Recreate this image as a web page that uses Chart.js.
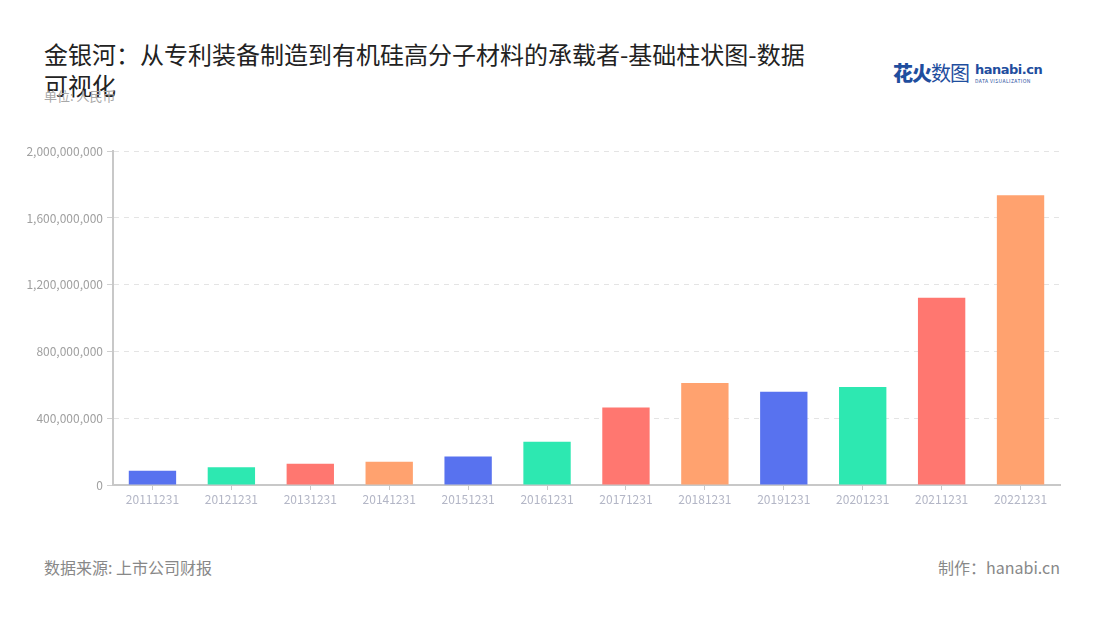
<!DOCTYPE html>
<html lang="zh">
<head>
<meta charset="UTF-8">
<title>金银河 基础柱状图</title>
<script src="https://cdn.jsdelivr.net/npm/chart.js"></script>
<style>
    body {
        margin: 0;
        background: #fff;
        font-family: "Noto Sans CJK SC", "Noto Sans", sans-serif;
    }
    .page {
        position: relative;
        width: 1100px;
        height: 620px;
        overflow: hidden;
    }
    .title {
        position: absolute;
        left: 44px;
        top: 38px;
        width: 775px;
        font-size: 24px;
        line-height: 31px;
        color: #222;
    }
    .unit {
        position: absolute;
        left: 44px;
        top: 86px;
        font-size: 13px;
        color: #a8a8a8;
    }
    .logo {
        position: absolute;
        left: 893px;
        top: 58px;
        display: flex;
        align-items: center;
    }
    .logo .cn {
        font-size: 20px;
        color: #1f4e9e;
        letter-spacing: -1px;
    }
    .logo .cn b { font-weight: 900; }
    .logo .en {
        margin-left: 6px;
        line-height: 1;
    }
    .logo .en b {
        display: block;
        font-family: "DejaVu Sans", sans-serif;
        font-size: 13px;
        color: #1f4e9e;
        letter-spacing: -0.5px;
    }
    .logo .en i {
        display: block;
        font-style: normal;
        font-size: 5px;
        color: #1f4e9e;
        letter-spacing: 0.4px;
        margin-top: 2px;
    }
    .chart-box {
        position: absolute;
        left: 0;
        top: 140px;
        width: 1100px;
        height: 380px;
    }
    .source {
        position: absolute;
        left: 44px;
        top: 555px;
        font-size: 16px;
        color: #888;
    }
    .maker {
        position: absolute;
        right: 40px;
        top: 555px;
        font-size: 16px;
        color: #888;
    }
</style>
</head>
<body>
<div class="page">
    <div class="title">金银河：从专利装备制造到有机硅高分子材料的承载者-基础柱状图-数据可视化</div>
    <div class="unit">单位: 人民币</div>
    <div class="logo">
        <span class="cn"><b>花火</b>数图</span>
        <span class="en"><b>hanabi.cn</b><i>DATA VISUALIZATION</i></span>
    </div>
    <div class="chart-box"><canvas id="barChart"></canvas></div>
    <div class="source">数据来源: 上市公司财报</div>
    <div class="maker">制作：hanabi.cn</div>
</div>

<script>
    // 报告期 & 数值（人民币）
    const periods = ["20111231", "20121231", "20131231", "20141231", "20151231", "20161231",
                     "20171231", "20181231", "20191231", "20201231", "20211231", "20221231"];
    const values = [85000000, 106000000, 127000000, 139000000, 171000000, 259000000,
                    464000000, 611000000, 559000000, 587000000, 1122000000, 1736000000];
    const palette = ["#5872EF", "#2DE8B1", "#FF7770", "#FFA26F"];

    const barColors = periods.map((p, i) => palette[i % palette.length]);

    const ctx = document.getElementById('barChart').getContext('2d');
    new Chart(ctx, {
        type: 'bar',
        data: {
            labels: periods,
            datasets: [{
                data: values,
                backgroundColor: barColors,
                borderWidth: 0,
                categoryPercentage: 0.6,
                barPercentage: 1
            }]
        },
        options: {
            responsive: true,
            maintainAspectRatio: false,
            animation: false,
            layout: { padding: { top: 10, right: 40, left: 0, bottom: 0 } },
            plugins: {
                legend: { display: false },
                tooltip: { enabled: false }
            },
            scales: {
                x: {
                    grid: {
                        offset: false,
                        drawOnChartArea: false,
                        drawTicks: true,
                        tickLength: 5,
                        tickColor: '#c8c8c8'
                    },
                    border: { color: '#c8c8c8', width: 2 },
                    ticks: {
                        color: '#b3b6c6',
                        font: { family: '"Noto Sans CJK SC", sans-serif', size: 12 },
                        padding: 2,
                        maxRotation: 0
                    },
                    afterFit: (scale) => { scale.height = 35; }
                },
                y: {
                    min: 0,
                    max: 2000000000,
                    grid: {
                        color: '#e4e4e4',
                        tickLength: 6,
                        tickColor: '#d0d0d0'
                    },
                    border: { color: '#c8c8c8', width: 2, dash: [5, 5] },
                    ticks: {
                        stepSize: 400000000,
                        color: '#a0a0a0',
                        font: { family: '"Noto Sans CJK SC", sans-serif', size: 12 },
                        padding: 4,
                        callback: (v) => v.toLocaleString('en-US')
                    },
                    afterFit: (scale) => { scale.width = 113; }
                }
            }
        }
    });
</script>
</body>
</html>
